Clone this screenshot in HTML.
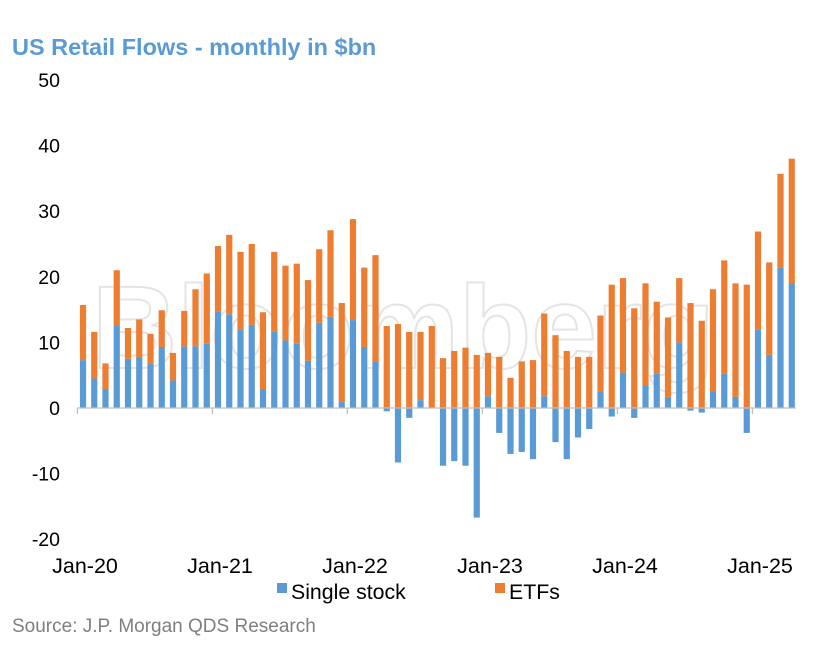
<!DOCTYPE html>
<html><head><meta charset="utf-8"><style>
body{margin:0;background:#fff;}
svg text{font-family:"Liberation Sans",Arial,sans-serif;}
</style></head><body>
<svg width="814" height="647" viewBox="0 0 814 647">
<text x="12" y="55" font-size="23.5" font-weight="bold" fill="#5B9BD5">US Retail Flows - monthly in $bn</text>
<text x="92" y="368" font-size="118" font-weight="bold" fill="none" stroke="#e4e4e4" stroke-width="2">Bloomberg</text>
<g id="yaxis"></g>
<g id="bars"></g>
<g id="xaxis"></g>
<rect x="277" y="583" width="10" height="10" fill="#5B9BD5"/>
<text x="291" y="599" font-size="21.3" fill="#000">Single stock</text>
<rect x="495" y="583" width="10" height="10" fill="#ED7D31"/>
<text x="509" y="599" font-size="21.3" fill="#000">ETFs</text>
<text x="12" y="632" font-size="19" fill="#7f7f7f">Source: J.P. Morgan QDS Research</text>
</svg>
<script>
const singleStock=[7.3,4.5,2.9,12.5,7.5,7.7,6.7,9.3,4.2,9.4,9.4,9.8,
14.7,14.3,11.9,12.7,2.9,11.6,10.3,9.8,7.2,13,13.9,0.9,
13.4,9.3,7.1,-0.5,-8.3,-1.5,1.2,0,-8.8,-8.1,-8.8,-16.7,
1.8,-3.8,-7,-6.7,-7.8,1.8,-5.2,-7.8,-4.5,-3.2,2.5,-1.3,
5.4,-1.5,3.5,5.3,1.7,10,-0.4,-0.7,2.5,5.2,1.7,-3.8,
12,8.1,21.4,18.9];
const totals=[15.7,11.6,6.8,21,12.2,13.5,11.3,14.9,8.4,14.8,18.1,20.5,
24.7,26.4,23.8,25,14.6,23.8,21.7,22,19.5,24.2,27.1,16,
28.8,21.4,23.3,12.5,12.8,11.6,11.6,12.5,7.6,8.7,9.2,8.1,
8.4,7.8,4.6,7.1,7.3,14.4,11.1,8.7,7.8,7.8,14.1,18.8,
19.8,15.2,19,16.2,13.8,19.8,16,13.3,18.1,22.5,19,18.8,
26.9,22.2,35.7,38];
const etfs=totals.map((t,i)=>singleStock[i]>0?+(t-singleStock[i]).toFixed(1):t);
const yTicks=[50,40,30,20,10,0,-10,-20];
const xLabels=["Jan-20","Jan-21","Jan-22","Jan-23","Jan-24","Jan-25"];
const NS="http://www.w3.org/2000/svg";
const y=v=>408-v*6.56;
const x=i=>83+i*11.25;
const bw=6.2;
function mk(tag,attrs,parent){const e=document.createElementNS(NS,tag);for(const k in attrs)e.setAttribute(k,attrs[k]);parent.appendChild(e);return e;}
const ya=document.getElementById('yaxis');
yTicks.forEach(t=>{const e=mk('text',{x:60,y:y(t)+7,'font-size':19.5,'text-anchor':'end',fill:'#000'},ya);e.textContent=t;

});
const g=document.getElementById('bars');
singleStock.forEach((s,i)=>{
  const b=mk('rect',{x:x(i)-bw/2,y:s>=0?y(s):y(0),width:bw,height:Math.abs(s)*6.56,fill:'#5B9BD5'},g);
  
  
  const base=s>0?s:0;const e=etfs[i];
  const o=mk('rect',{x:x(i)-bw/2,y:y(base+e),width:bw,height:e*6.56,fill:'#ED7D31'},g);
  
  
});
const xa=document.getElementById('xaxis');
const ax=mk('line',{x1:77,x2:796,y1:408,y2:408,stroke:'#bfbfbf','stroke-width':1.3},xa);


for(let k=0;k<=5;k++){const tx=x(k*12)-5.6;
  const tk=mk('line',{x1:tx,x2:tx,y1:408,y2:414,stroke:'#bfbfbf','stroke-width':1.3},xa);
  
  }
xLabels.forEach((l,k)=>{const e=mk('text',{x:x(k*12)+2,y:573,'font-size':21.5,'text-anchor':'middle',fill:'#000'},xa);e.textContent=l;

});
</script>
</body></html>
